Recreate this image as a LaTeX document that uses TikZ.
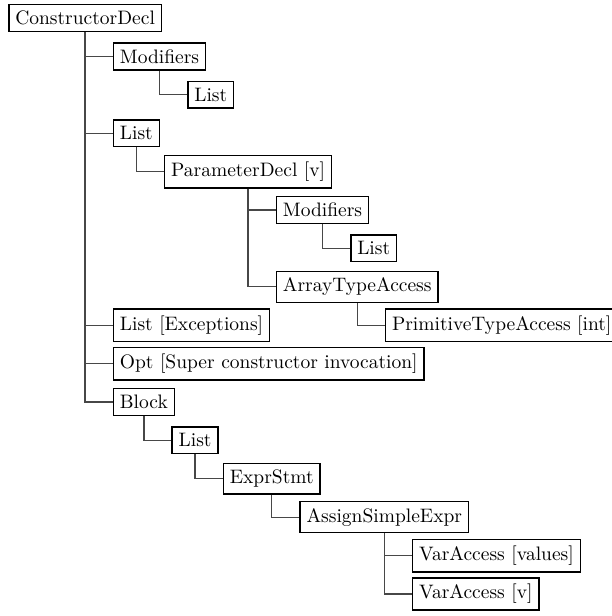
\documentclass[tikz,border=0pt]{standalone}
\usetikzlibrary{calc}
\begin{document}
\begin{tikzpicture}[x=0.5128pt,y=-0.5128pt,
  box/.style={draw, line width=0.8pt, anchor=west, inner sep=0.3333em},
  conn/.style={line width=0.65pt, draw=black!72}]
\useasboundingbox (0,0) rectangle (612,616);
\foreach \i in {0,...,15} { \coordinate (r\i) at (0,{18+38.4*\i}); }
\node[box] (cd) at (8,18) {ConstructorDecl};
\node[box] (mod1) at ($(cd.south |- r1)+(27.5,0)$) {Modifiers};
\node[box] (list1) at ($(mod1.south |- r2)+(27.5,0)$) {List};
\node[box] (list2) at ($(cd.south |- r3)+(27.5,0)$) {List};
\node[box] (pd) at ($(list2.south |- r4)+(27.5,0)$) {ParameterDecl [v]};
\node[box] (mod2) at ($(pd.south |- r5)+(27.5,0)$) {Modifiers};
\node[box] (list3) at ($(mod2.south |- r6)+(27.5,0)$) {List};
\node[box] (ata) at ($(pd.south |- r7)+(27.5,0)$) {ArrayTypeAccess};
\node[box] (pta) at ($(ata.south |- r8)+(27.5,0)$) {PrimitiveTypeAccess [int]};
\node[box] (lex) at ($(cd.south |- r8)+(27.5,0)$) {List [Exceptions]};
\node[box] (opt) at ($(cd.south |- r9)+(27.5,0)$) {Opt [Super constructor invocation]};
\node[box] (blk) at ($(cd.south |- r10)+(27.5,0)$) {Block};
\node[box] (list4) at ($(blk.south |- r11)+(27.5,0)$) {List};
\node[box] (es) at ($(list4.south |- r12)+(27.5,0)$) {ExprStmt};
\node[box] (ase) at ($(es.south |- r13)+(27.5,0)$) {AssignSimpleExpr};
\node[box] (va1) at ($(ase.south |- r14)+(27.5,0)$) {VarAccess [values]};
\node[box] (va2) at ($(ase.south |- r15)+(27.5,0)$) {VarAccess [v]};
\foreach \p/\c in {cd/mod1, mod1/list1, cd/list2, list2/pd, pd/mod2, mod2/list3, pd/ata, ata/pta, cd/lex, cd/opt, cd/blk, blk/list4, list4/es, es/ase, ase/va1, ase/va2}
  \draw[conn] (\p.south) |- (\c.west);
\end{tikzpicture}
\end{document}
